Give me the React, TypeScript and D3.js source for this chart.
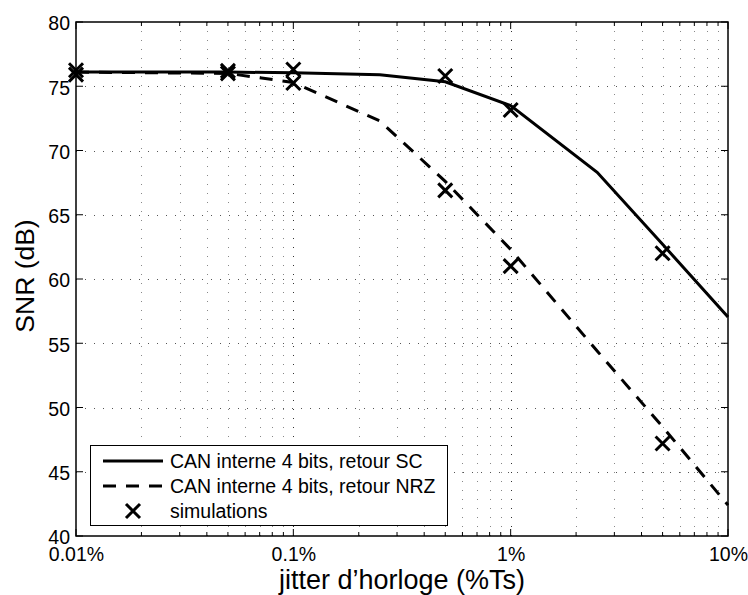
import React, { useEffect, useRef } from "react";
import * as d3 from "d3";

const WIDTH = 748;
const HEIGHT = 595;
const M = { left: 76, right: 728, top: 22, bottom: 536 };

// courbes théoriques (jitter en %Ts)
const jitter = [0.01, 0.05, 0.1, 0.25, 0.5, 1, 2.5, 5, 10];
const snrSC = [76.1, 76.1, 76.05, 75.9, 75.35, 73.5, 68.3, 62.7, 57.05];
const snrNRZ = [76.1, 76.0, 75.3, 72.3, 67.6, 62.3, 54.4, 48.5, 42.4];

// points de simulation
const simJitter = [0.01, 0.01, 0.05, 0.05, 0.1, 0.1, 0.5, 0.5, 1, 1, 5, 5];
const simSNR = [76.25, 75.9, 76.2, 76.0, 76.3, 75.25, 75.8, 66.9, 73.15, 61.0, 62.0, 47.2];

const xTicks = [0.01, 0.1, 1, 10];
const xTickLabels = ["0.01%", "0.1%", "1%", "10%"];
const yTicks = [40, 45, 50, 55, 60, 65, 70, 75, 80];

const legendLabels = [
  "CAN interne 4 bits, retour SC",
  "CAN interne 4 bits, retour NRZ",
  "simulations",
];

const FONT = "'Liberation Sans', Arial, Helvetica, sans-serif";

export default function App() {
  const ref = useRef<SVGSVGElement>(null);

  useEffect(() => {
    const container = ref.current;
    if (!container) return;

    const svg = d3.select(container);
    svg.selectAll("*").remove();

    const x = d3.scaleLog().domain([0.01, 10]).range([M.left, M.right]);
    const y = d3.scaleLinear().domain([40, 80]).range([M.bottom, M.top]);

    // minor x ticks 2..9 in each decade
    const minorX: number[] = [];
    [0.01, 0.1, 1].forEach((d) => {
      for (let k = 2; k <= 9; k++) minorX.push(d * k);
    });

    const grid = svg.append("g").attr("shape-rendering", "crispEdges");

    grid
      .selectAll(".vgrid")
      .data([...minorX, ...xTicks.slice(1, -1)])
      .enter()
      .append("line")
      .attr("x1", (d) => Math.round(x(d)) + 0.5)
      .attr("x2", (d) => Math.round(x(d)) + 0.5)
      .attr("y1", M.top)
      .attr("y2", M.bottom)
      .attr("stroke", (d) => (xTicks.includes(d) ? "#333" : "#888"))
      .attr("stroke-width", 1)
      .attr("stroke-dasharray", "1,8");

    grid
      .selectAll(".hgrid")
      .data(yTicks.slice(1, -1))
      .enter()
      .append("line")
      .attr("x1", M.left)
      .attr("x2", M.right)
      .attr("y1", (d) => Math.round(y(d)) + 0.5)
      .attr("y2", (d) => Math.round(y(d)) + 0.5)
      .attr("stroke", "#555")
      .attr("stroke-width", 1)
      .attr("stroke-dasharray", "1,8");

    // ticks, inward on all four sides
    const ticks = svg.append("g").attr("stroke", "#000").attr("stroke-width", 1);
    const allX = [...xTicks, ...minorX];
    allX.forEach((d) => {
      const len = xTicks.includes(d) ? 7 : 4;
      const xp = x(d);
      ticks.append("line").attr("x1", xp).attr("x2", xp).attr("y1", M.bottom).attr("y2", M.bottom - len);
      ticks.append("line").attr("x1", xp).attr("x2", xp).attr("y1", M.top).attr("y2", M.top + len);
    });
    yTicks.forEach((d) => {
      const yp = y(d);
      ticks.append("line").attr("x1", M.left).attr("x2", M.left + 7).attr("y1", yp).attr("y2", yp);
      ticks.append("line").attr("x1", M.right).attr("x2", M.right - 7).attr("y1", yp).attr("y2", yp);
    });

    // axes labels via d3 axes
    const xAxis = d3
      .axisBottom(x)
      .tickValues(xTicks)
      .tickFormat((_, i) => xTickLabels[i])
      .tickSize(0)
      .tickPadding(11);
    const gx = svg
      .append("g")
      .attr("transform", `translate(0, ${M.bottom})`)
      .call(xAxis);
    gx.select(".domain").remove();
    gx.selectAll("text")
      .attr("font-family", FONT)
      .attr("font-size", 19.5)
      .attr("fill", "#000");

    const yAxis = d3.axisLeft(y).tickValues(yTicks).tickSize(0).tickPadding(6);
    const gy = svg
      .append("g")
      .attr("transform", `translate(${M.left}, 0)`)
      .call(yAxis);
    gy.select(".domain").remove();
    gy.selectAll("text")
      .attr("font-family", FONT)
      .attr("font-size", 19.5)
      .attr("dy", "0.4em")
      .attr("fill", "#000");

    // lines
    const line = d3
      .line<number>()
      .x((_, i) => x(jitter[i]))
      .y((d) => y(d));

    svg
      .append("path")
      .attr("d", line(snrSC))
      .attr("fill", "none")
      .attr("stroke", "#000")
      .attr("stroke-width", 3);

    svg
      .append("path")
      .attr("d", line(snrNRZ))
      .attr("fill", "none")
      .attr("stroke", "#000")
      .attr("stroke-width", 3)
      .attr("stroke-dasharray", "13,10");

    // simulation crosses
    const cross = (cx: number, cy: number, s: number) =>
      `M${cx - s},${cy - s}L${cx + s},${cy + s}M${cx - s},${cy + s}L${cx + s},${cy - s}`;

    svg
      .selectAll(".sim")
      .data(simSNR)
      .enter()
      .append("path")
      .attr("d", (d, i) => cross(x(simJitter[i]), y(d), 7))
      .attr("stroke", "#000")
      .attr("stroke-width", 3)
      .attr("fill", "none");

    // box
    svg
      .append("rect")
      .attr("x", M.left)
      .attr("y", M.top)
      .attr("width", M.right - M.left)
      .attr("height", M.bottom - M.top)
      .attr("fill", "none")
      .attr("stroke", "#000")
      .attr("stroke-width", 1.5);

    // legend
    const lg = svg.append("g");
    lg.append("rect")
      .attr("x", 90.5)
      .attr("y", 445.5)
      .attr("width", 357)
      .attr("height", 80)
      .attr("fill", "#fff")
      .attr("stroke", "#000")
      .attr("stroke-width", 1);

    const rows = [461, 486, 511];
    lg.append("line")
      .attr("x1", 103).attr("x2", 163)
      .attr("y1", rows[0]).attr("y2", rows[0])
      .attr("stroke", "#000").attr("stroke-width", 3);
    lg.append("line")
      .attr("x1", 103).attr("x2", 163)
      .attr("y1", rows[1]).attr("y2", rows[1])
      .attr("stroke", "#000").attr("stroke-width", 3)
      .attr("stroke-dasharray", "13,10");
    lg.append("path")
      .attr("d", cross(133, rows[2], 7))
      .attr("stroke", "#000").attr("stroke-width", 3);

    lg.selectAll(".lt")
      .data(legendLabels)
      .enter()
      .append("text")
      .attr("x", 170)
      .attr("y", (_, i) => rows[i] + 7)
      .attr("font-family", FONT)
      .attr("font-size", 19.5)
      .text((d) => d);

    // axis titles
    svg
      .append("text")
      .attr("x", (M.left + M.right) / 2)
      .attr("y", 589)
      .attr("text-anchor", "middle")
      .attr("font-family", FONT)
      .attr("font-size", 27)
      .text("jitter d’horloge (%Ts)");

    svg
      .append("text")
      .attr("transform", "translate(34, 276) rotate(-90)")
      .attr("text-anchor", "middle")
      .attr("font-family", FONT)
      .attr("font-size", 26.5)
      .text("SNR (dB)");
  }, [ref]);

  return (
    <svg
      ref={ref}
      width={WIDTH}
      height={HEIGHT}
      style={{ position: "absolute", left: 0, top: 0, background: "#fff" }}
    />
  );
}
